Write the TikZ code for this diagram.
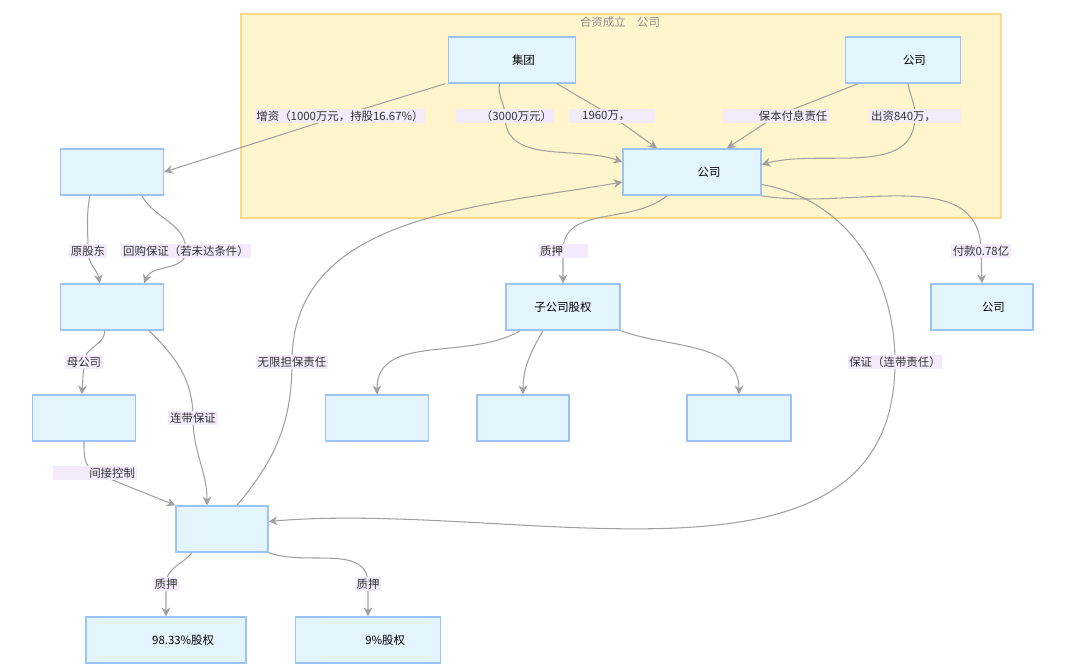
\documentclass[tikz,border=0pt]{standalone}
\usepackage{fontspec}
\setmainfont{Noto Sans CJK SC}
\usetikzlibrary{arrows.meta}
\definecolor{boxfill}{HTML}{E3F4FD}
\definecolor{boxline}{HTML}{9CC3F5}
\definecolor{grpfill}{HTML}{FFF5CC}
\definecolor{grpline}{HTML}{F8DB8A}
\definecolor{lblfill}{HTML}{F3EBFB}
\definecolor{arrowc}{HTML}{A0A0A0}
\tikzset{
  ent/.style={draw=boxline, fill=boxfill, line width=0.8pt, minimum height=0.92cm,
    font=\fontsize{6.5}{8}\selectfont, inner sep=1pt},
  lbl/.style={fill=lblfill, font=\fontsize{6.5}{8}\selectfont, inner sep=1pt, text=black!80},
  rel/.style={draw=arrowc, line width=0.6pt, -{Stealth[length=5pt,width=5pt]}}
}
\begin{document}
\begin{tikzpicture}[x=0.02cm, y=-0.02cm]
\useasboundingbox (0,0) rectangle (1080,670);
%\draw[help lines] (0,0) grid (1080,670);

% joint venture group
\draw[draw=grpline, fill=grpfill, line width=0.8pt] (241,14) rectangle (1001,218);
\node[font=\fontsize{6.5}{8}\selectfont, text=black!45] (grp-title) at (620,22) {合资成立\quad 公司};

\node[ent, minimum width=2.54cm] (jt) at (512,60) {\qquad 集团};
\node[ent, minimum width=2.3cm] (gs2) at (903,60) {\qquad 公司};
\node[ent, minimum width=2.76cm] (jv) at (692,172) {\qquad\quad 公司};

\node[ent, minimum width=2.06cm] (sh-a) at (112,172) {};
\node[ent, minimum width=2.06cm] (sh-b) at (112,307) {};
\node[ent, minimum width=2.06cm] (sh-c) at (84,418) {};
\node[ent, minimum width=1.84cm] (core) at (222,529) {};
\node[ent, minimum width=3.2cm] (eq-e) at (166,640) {\qquad\quad 98.33\%股权};
\node[ent, minimum width=2.9cm] (eq-f) at (368,640) {\qquad\quad 9\%股权};

\node[ent, minimum width=2.28cm] (sub) at (563,307) {子公司股权};
\node[ent, minimum width=2.06cm] (sub-1) at (377,418) {};
\node[ent, minimum width=1.84cm] (sub-2) at (523,418) {};
\node[ent, minimum width=2.08cm] (sub-3) at (739,418) {};
\node[ent, minimum width=2.04cm] (pay) at (982,307) {\qquad 公司};

% edges
\draw[rel] ([xshift=-0.05cm]jt.south west) -- (340,116) node[lbl] {增资（1000万元，持股16.67\%）} -- (sh-a.east);
\draw[rel] ([xshift=-0.25cm]jt.south) to[out=-100, in=90] (505,116) node[lbl] {\qquad（3000万元）} to[out=-90, in=160] ([yshift=0.2cm]jv.west);
\draw[rel] ([xshift=0.9cm]jt.south) -- (612,116) node[lbl] {\quad 1960万，\qquad\quad} -- ([xshift=-0.7cm]jv.north);
\draw[rel] ([xshift=-0.9cm]gs2.south) -- (776,116) node[lbl] {\qquad\quad 保本付息责任} -- ([xshift=0.7cm]jv.north);
\draw[rel] ([xshift=0.1cm]gs2.south) to[out=-80, in=90] (915,116) node[lbl] {出资840万，\qquad\quad} to[out=-90, in=15] ([yshift=0.15cm]jv.east);

\draw[rel] ([xshift=0.6cm]sh-a.south west) to[out=-100, in=90] (88,251) node[lbl] {原股东} to[out=-90, in=100] ([xshift=0.8cm]sh-b.north west);
\draw[rel] ([xshift=-0.45cm]sh-a.south east) to[out=-60, in=90] (186,251) node[lbl] {回购保证（若未达条件）} to[out=-90, in=70] ([xshift=-0.4cm]sh-b.north east);
\draw[rel] ([xshift=0.9cm]sh-b.south west) to[out=-90, in=90] (84,362) node[lbl] {母公司} -- ([xshift=1cm]sh-c.north west);
\draw[rel] ([xshift=-0.3cm]sh-b.south east) to[out=-45, in=90] (193,418) node[lbl] {连带保证} to[out=-90, in=90] ([xshift=-0.3cm]core.north);
\draw[rel] (sh-c.south) to[out=-90, in=150] (95,473) node[lbl] {\qquad\quad 间接控制} -- (core.north west);

\draw[rel] ([xshift=0.3cm]core.north) to[out=50, in=-90] (292,362) node[lbl] {无限担保责任} to[out=90, in=190] ([yshift=-0.2cm]jv.west);
\draw[rel] ([yshift=-0.25cm]jv.east) to[out=-10, in=90] (895,362) node[lbl] {保证（连带责任）} to[out=-90, in=5] ([yshift=0.15cm]core.east);
\draw[rel] ([xshift=-0.5cm]jv.south) to[out=-140, in=90] (563,251) node[lbl] {质押\qquad\quad} -- (sub.north);
\draw[rel] (jv.south east) to[out=-10, in=90] (981,251) node[lbl] {付款0.78亿} -- (pay.north);

\draw[rel] ([xshift=0.3cm]sub.south west) to[out=-150, in=90] (sub-1.north);
\draw[rel] ([xshift=-0.4cm]sub.south) to[out=-120, in=90] (sub-2.north);
\draw[rel] (sub.south east) to[out=-20, in=90] (sub-3.north);

\draw[rel] ([xshift=-0.6cm]core.south) to[out=-130, in=90] (166,584) node[lbl] {质押} -- (eq-e.north);
\draw[rel] (core.south east) to[out=-20, in=90] (368,584) node[lbl] {质押} -- (eq-f.north);
\end{tikzpicture}
\end{document}
